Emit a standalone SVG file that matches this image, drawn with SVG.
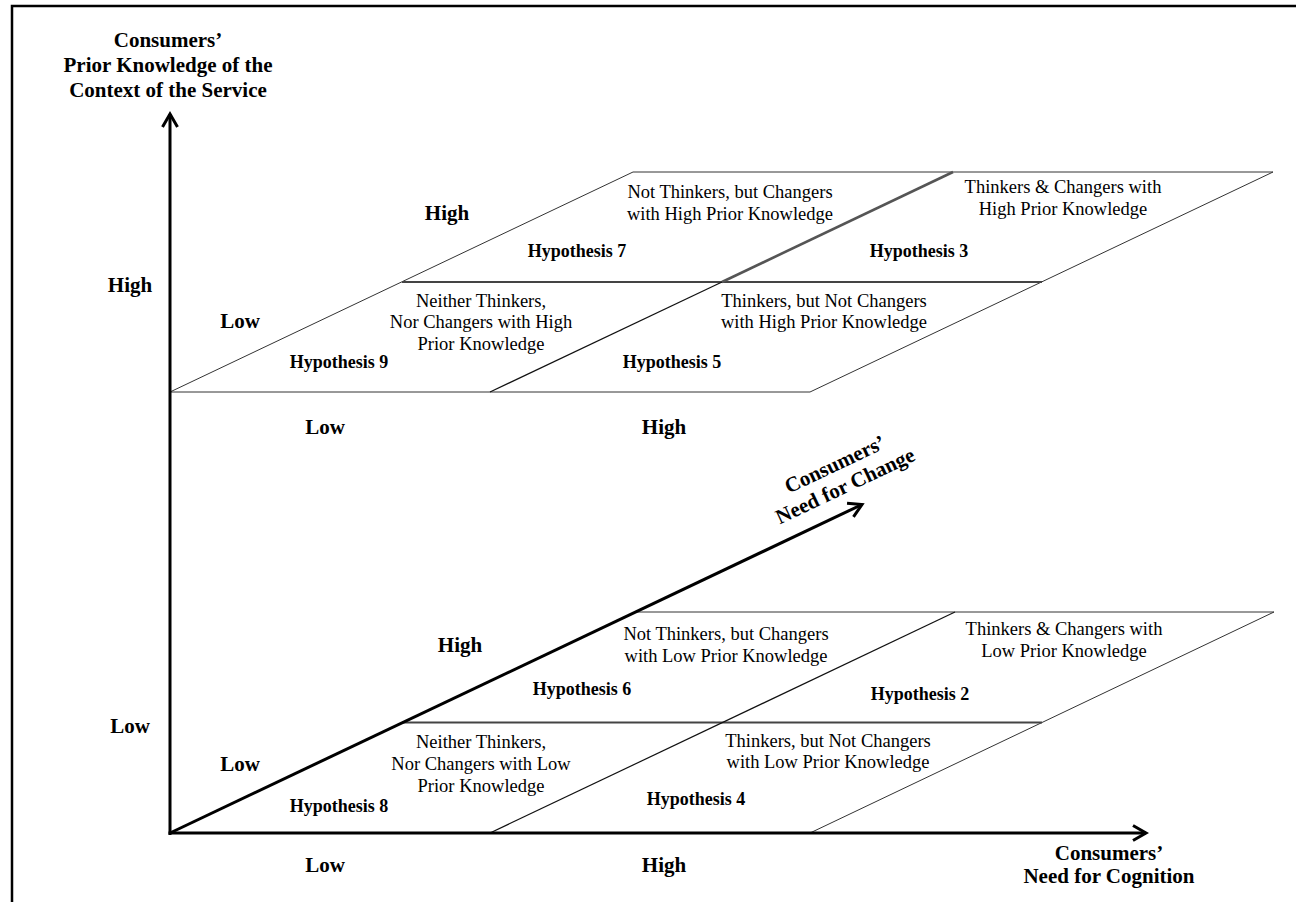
<svg xmlns="http://www.w3.org/2000/svg" width="1296" height="902" viewBox="0 0 1296 902">
  <defs>
    <marker id="head" markerUnits="userSpaceOnUse" markerWidth="30" markerHeight="30" refX="0" refY="0" orient="auto" viewBox="-20 -15 30 30" overflow="visible">
      <path d="M-13,-7.5 L0,0 L-13,7.5" fill="none" stroke="#000" stroke-width="3" stroke-linejoin="miter" stroke-linecap="butt"/>
    </marker>
    <style>
      .frame { fill: none; stroke: #000; stroke-width: 2.5; }
      .axis { fill: none; stroke: #000; stroke-width: 3; marker-end: url(#head); }
      .edge { fill: none; stroke: #333; stroke-width: 1; }
      .mid { fill: none; stroke: #444; stroke-width: 1.8; }
      .div { fill: none; stroke: #111; stroke-width: 1.2; }
      .divd { fill: none; stroke: #555; stroke-width: 2.6; }
      text { font-family: "Liberation Serif", "Times New Roman", serif; fill: #000; text-anchor: middle; }
      .lab { font-size: 21px; font-weight: bold; }
      .hyp { font-size: 18px; font-weight: bold; }
      .cell { font-size: 18.5px; }
    </style>
  </defs>
  <rect width="1296" height="902" fill="#fff"/>
  <!-- outer frame (left and top edges in view) -->
  <path class="frame" d="M12,902 L12,6 L1296,6"/>

  <!-- upper plane: high prior knowledge -->
  <g id="plane-high">
    <path class="edge" d="M170,392 L810,392 L1273,172 L633,172 Z"/>
    <path class="mid" d="M402,282 L1042,282"/>
    <path class="div" d="M490,392 L722,282"/>
    <path class="divd" d="M722,282 L953,172"/>
  </g>

  <!-- lower plane: low prior knowledge -->
  <g id="plane-low">
    <path class="edge" d="M635,612 L1274,612 L810,833"/>
    <path class="mid" d="M402,722.5 L1042,722.5"/>
    <path class="div" d="M490,833 L955,612"/>
  </g>

  <!-- axes -->
  <g id="connectors">
    <path class="axis" d="M170,835 L170,114"/>
    <path class="axis" d="M168.5,833 L1146,833"/>
    <path class="axis" d="M170,833 L862,504.5"/>
  </g>

  <g id="axis-prior-knowledge">
    <text class="lab" x="168" y="47">Consumers’</text>
    <text class="lab" x="168" y="72">Prior Knowledge of the</text>
    <text class="lab" x="168" y="97">Context of the Service</text>
    <text class="lab" x="130" y="292">High</text>
    <text class="lab" x="130" y="733">Low</text>
  </g>

  <g id="axis-need-for-change">
    <g transform="translate(840,475) rotate(-25.4)">
      <text class="lab" x="0" y="-5">Consumers’</text>
      <text class="lab" x="0" y="19">Need for Change</text>
    </g>
    <text class="lab" x="447" y="220">High</text>
    <text class="lab" x="240" y="328">Low</text>
    <text class="lab" x="460" y="652">High</text>
    <text class="lab" x="240" y="771">Low</text>
  </g>

  <g id="axis-need-for-cognition">
    <text class="lab" x="325" y="434">Low</text>
    <text class="lab" x="664" y="434">High</text>
    <text class="lab" x="325" y="872">Low</text>
    <text class="lab" x="664" y="872">High</text>
    <text class="lab" x="1109" y="860">Consumers’</text>
    <text class="lab" x="1109" y="883">Need for Cognition</text>
  </g>

  <!-- cells of the upper plane -->
  <g id="h7">
    <text class="cell" x="730" y="198">Not Thinkers, but Changers</text>
    <text class="cell" x="730" y="220">with High Prior Knowledge</text>
    <text class="hyp" x="577" y="257">Hypothesis 7</text>
  </g>
  <g id="h3">
    <text class="cell" x="1063" y="193">Thinkers &amp; Changers with</text>
    <text class="cell" x="1063" y="215">High Prior Knowledge</text>
    <text class="hyp" x="919" y="257">Hypothesis 3</text>
  </g>
  <g id="h9">
    <text class="cell" x="481" y="307">Neither Thinkers,</text>
    <text class="cell" x="481" y="328">Nor Changers with High</text>
    <text class="cell" x="481" y="350">Prior Knowledge</text>
    <text class="hyp" x="339" y="368">Hypothesis 9</text>
  </g>
  <g id="h5">
    <text class="cell" x="824" y="307">Thinkers, but Not Changers</text>
    <text class="cell" x="824" y="328">with High Prior Knowledge</text>
    <text class="hyp" x="672" y="368">Hypothesis 5</text>
  </g>

  <!-- cells of the lower plane -->
  <g id="h6">
    <text class="cell" x="726" y="640">Not Thinkers, but Changers</text>
    <text class="cell" x="726" y="662">with Low Prior Knowledge</text>
    <text class="hyp" x="582" y="695">Hypothesis 6</text>
  </g>
  <g id="h2">
    <text class="cell" x="1064" y="635">Thinkers &amp; Changers with</text>
    <text class="cell" x="1064" y="657">Low Prior Knowledge</text>
    <text class="hyp" x="920" y="700">Hypothesis 2</text>
  </g>
  <g id="h8">
    <text class="cell" x="481" y="748">Neither Thinkers,</text>
    <text class="cell" x="481" y="770">Nor Changers with Low</text>
    <text class="cell" x="481" y="792">Prior Knowledge</text>
    <text class="hyp" x="339" y="812">Hypothesis 8</text>
  </g>
  <g id="h4">
    <text class="cell" x="828" y="747">Thinkers, but Not Changers</text>
    <text class="cell" x="828" y="768">with Low Prior Knowledge</text>
    <text class="hyp" x="696" y="805">Hypothesis 4</text>
  </g>
</svg>
